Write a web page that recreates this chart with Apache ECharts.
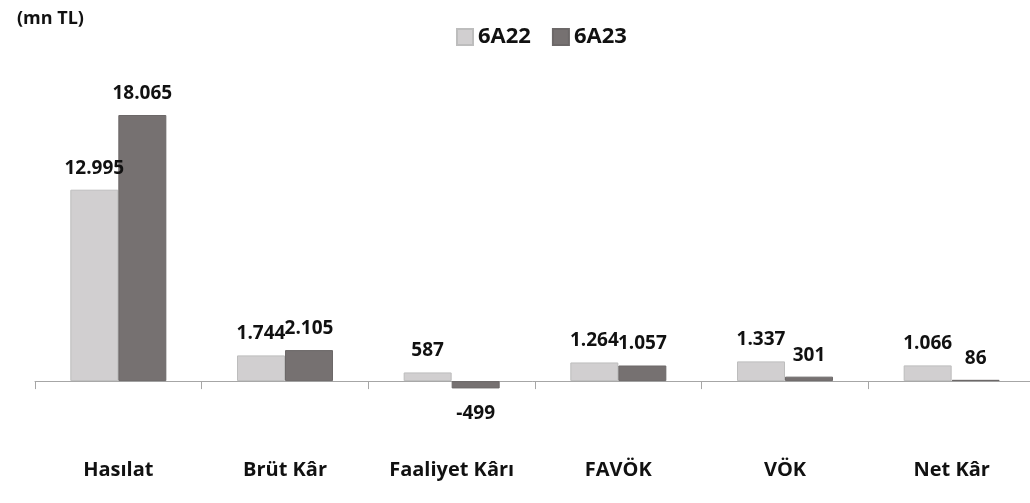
<!DOCTYPE html>
<html>
<head>
<meta charset="utf-8">
<script src="https://cdn.jsdelivr.net/npm/echarts@6/dist/echarts.min.js"></script>
<style>
  html, body { margin: 0; padding: 0; background: #fff; }
  #chart { width: 1030px; height: 503px; }
</style>
</head>
<body>
<div id="chart"></div>
<script>
const categories = ['Hasılat', 'Brüt Kâr', 'Faaliyet Kârı', 'FAVÖK', 'VÖK', 'Net Kâr']
const seriesNames = ['6A22', '6A23']
const values6A22 = [12995, 1744, 587, 1264, 1337, 1066]
const values6A23 = [18065, 2105, -499, 1057, 301, 86]

const FONT = '"Open Sans", "Noto Sans", sans-serif'

// Turkish number format: dot as thousands separator
function fmt(v) {
  return String(v).replace(/\B(?=(\d{3})+(?!\d))/g, '.')
}

function barData(vals) {
  return vals.map(v => v < 0
    ? { value: v, label: { position: 'bottom', distance: 16 } }
    : v)
}

const chart = echarts.init(document.getElementById('chart'))

const valueLabel = {
  show: true,
  position: 'top',
  distance: 12,
  formatter: p => fmt(p.value),
  fontFamily: FONT, fontSize: 19, fontWeight: 'bold', color: '#111'
}

chart.setOption({
  animation: false,
  title: {
    text: '(mn TL)',
    left: 12,
    top: 5,
    textStyle: { fontFamily: FONT, fontSize: 18, fontWeight: 'bold', color: '#111' }
  },
  legend: {
    data: seriesNames,
    left: 451,
    top: 21,
    itemWidth: 16,
    itemHeight: 16,
    itemGap: 21,
    icon: 'rect',
    textStyle: { fontFamily: FONT, fontSize: 22, fontWeight: 'bold', color: '#111' }
  },
  grid: { left: 35, right: -5, top: 86.5, bottom: 63, outerBoundsMode: 'none' },
  xAxis: [
    {
      // axis line through zero with boundary ticks
      type: 'category',
      data: categories,
      axisLine: { onZero: true, lineStyle: { color: '#a6a6a6', width: 1 } },
      axisTick: { show: true, length: 8, lineStyle: { color: '#a6a6a6' } },
      axisLabel: { show: false }
    },
    {
      // category names at the bottom of the plot
      type: 'category',
      data: categories,
      position: 'bottom',
      axisLine: { show: false, onZero: false },
      axisTick: { show: false },
      axisLabel: {
        margin: 20,
        fontFamily: FONT,
        fontSize: 20,
        fontWeight: 'bold',
        color: '#111'
      }
    }
  ],
  yAxis: {
    type: 'value',
    min: -4000,
    max: 20000,
    show: false,
    splitLine: { show: false }
  },
  series: [
    {
      name: seriesNames[0],
      type: 'bar',
      data: barData(values6A22),
      barWidth: 48,
      barGap: 0,
      itemStyle: { color: '#d1cfd0', borderColor: '#bdbdbd', borderWidth: 1 },
      label: valueLabel
    },
    {
      name: seriesNames[1],
      type: 'bar',
      data: barData(values6A23),
      barWidth: 48,
      barGap: 0,
      itemStyle: { color: '#767171', borderColor: '#6c6868', borderWidth: 1 },
      label: valueLabel
    }
  ]
})
</script>
</body>
</html>
